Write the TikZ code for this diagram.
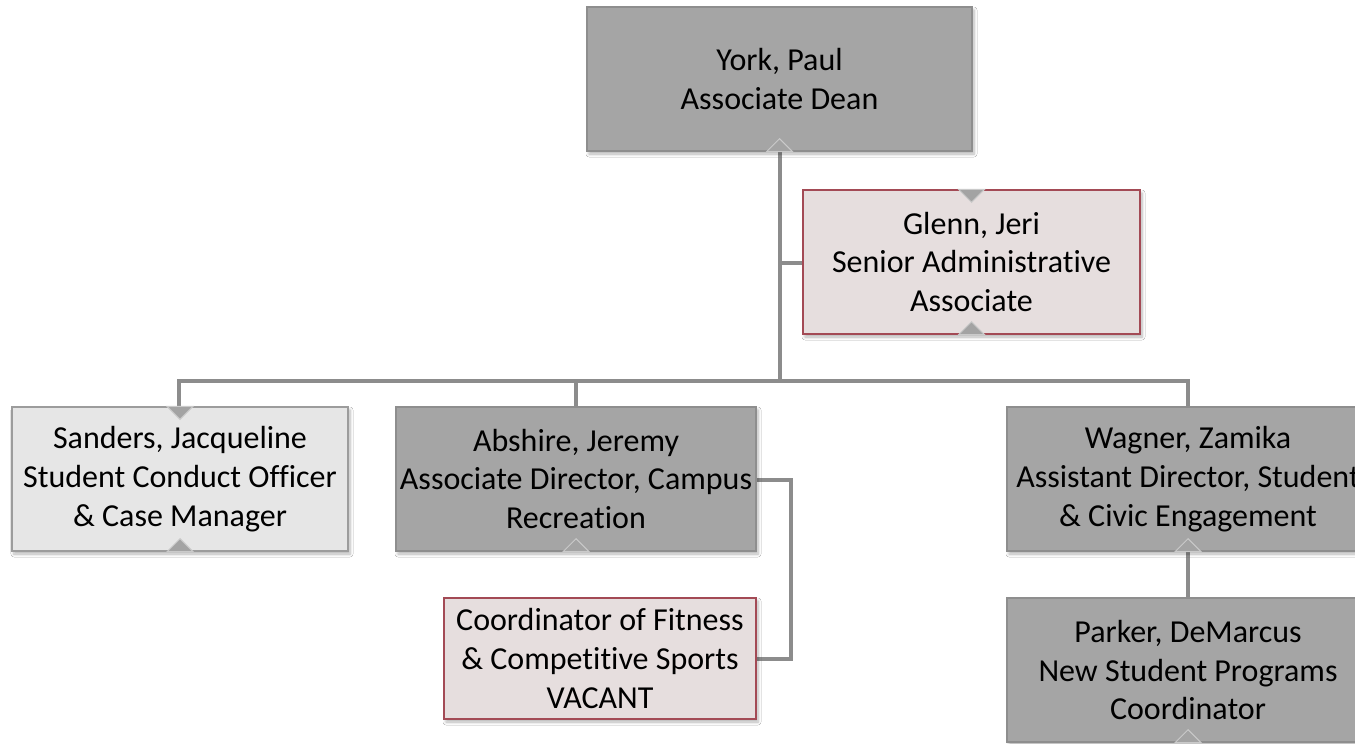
\documentclass[tikz,border=0pt]{standalone}
\usepackage{fontspec}
\setmainfont{Carlito}[Ligatures={NoCommon}]
\usetikzlibrary{shadows.blur}
\definecolor{dkfill}{HTML}{A5A5A5}
\definecolor{dkline}{HTML}{8E8E8E}
\definecolor{ltfill}{HTML}{E6E6E6}
\definecolor{ltline}{HTML}{9C9C9C}
\definecolor{pkfill}{HTML}{E6DEDE}
\definecolor{pkline}{HTML}{A34A55}
\definecolor{connc}{HTML}{8C8C8C}
\definecolor{notchf}{HTML}{A3A3A3}
\definecolor{notchl}{HTML}{CACACA}
\tikzset{
  orgbox/.style={draw, line width=1.4pt, align=center, inner sep=0pt,
    minimum height=144pt, font=\fontsize{32}{38.7}\selectfont,
    blur shadow={shadow blur steps=6, shadow xshift=2pt, shadow yshift=-3pt, shadow opacity=30, shadow blur radius=3pt}},
  dkbox/.style={orgbox, fill=dkfill, draw=dkline},
  ltbox/.style={orgbox, fill=ltfill, draw=ltline},
  pkbox/.style={orgbox, fill=pkfill, draw=pkline},
  conn/.style={draw=connc, line width=3.6pt},
  notchshape/.style={fill=notchf, draw=notchl, line width=1pt}
}
\newcommand\notchUp[1]{\path[notchshape] (#1) ++(-13,0) -- ++(13,-13) -- ++(13,13) -- cycle;}
\newcommand\notchDown[1]{\path[notchshape] (#1) ++(-13,0) -- ++(13,13) -- ++(13,-13) -- cycle;}
\begin{document}
\begin{tikzpicture}[x=1pt,y=-1pt]
\useasboundingbox (0,0) rectangle (1355,744);
\clip (0,0) rectangle (1355,744);
\fill[white] (0,0) rectangle (1355,744);

% connectors
\coordinate (jn) at (780,381);
\coordinate (yb) at (780,151);
\draw[conn] (yb) -- (jn);
\draw[conn] (jn) -| (179,407);
\draw[conn] (jn) -| (1188,407);
\draw[conn] (576,381) -- (576,407);
\draw[conn] (780,263) -- (803,263);
\draw[conn] (756,480) -- (791,480) |- (756,659);
\draw[conn] (1188,551) -- (1188,598);

% boxes
\node[dkbox, minimum width=385pt] (york) at (779.5,79) {York, Paul\\Associate Dean};
\node[pkbox, minimum width=337pt] (glenn) at (971.5,262) {Glenn, Jeri\\Senior Administrative\\Associate};
\node[ltbox, minimum width=336pt] (sanders) at (180,479) {Sanders, Jacqueline\\Student Conduct Officer\\\& Case Manager};
\node[dkbox, minimum width=360pt] (abshire) at (576,479) {Abshire, Jeremy\\Associate Director, Campus\\Recreation};
\node[dkbox, minimum width=362pt] (wagner) at (1188,479) {Wagner, Zamika\\Assistant Director, Student\\\& Civic Engagement};
\node[pkbox, minimum width=312pt, minimum height=121pt] (vacant) at (600,658.5) {Coordinator of Fitness\\\& Competitive Sports\\VACANT};
\node[dkbox, minimum width=362pt] (parker) at (1188,670) {Parker, DeMarcus\\New Student Programs\\Coordinator};

% notches
\notchUp{york.south}
\notchDown{glenn.north}
\notchUp{glenn.south}
\notchDown{sanders.north}
\notchUp{sanders.south}
\notchUp{abshire.south}
\notchUp{wagner.south}
\notchUp{parker.south}
\end{tikzpicture}
\end{document}
